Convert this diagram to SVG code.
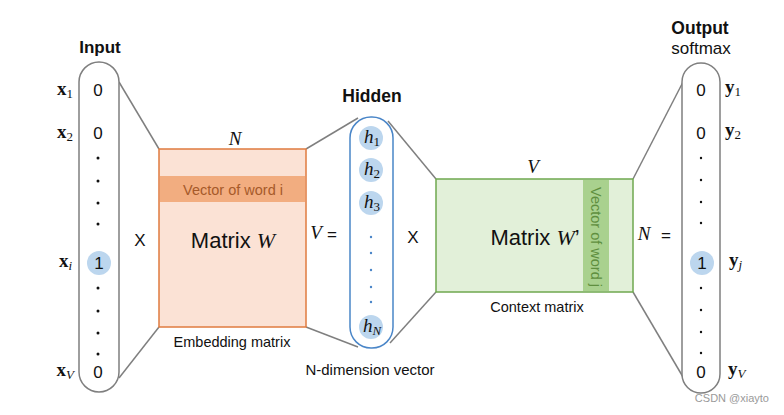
<svg xmlns="http://www.w3.org/2000/svg" width="784" height="415" viewBox="0 0 784 415">
<style>
.sans{font-family:"Liberation Sans",Arial,sans-serif;fill:#111}
.bold{font-weight:bold}
.serif{font-family:"Liberation Serif","Times New Roman",serif;fill:#111}
.it{font-style:italic}
.pill{fill:#fff;stroke:#7f7f7f;stroke-width:1.5}
.conn{stroke:#7f7f7f;stroke-width:1.5;fill:none}
.dot{fill:#111}
.bdot{fill:#4a86c8}
.hl{fill:#bcd6ee}
</style>
<rect width="784" height="415" fill="#fff"/>

<g id="connectors">
  <line class="conn" x1="119" y1="82" x2="159" y2="149"/>
  <line class="conn" x1="119" y1="378" x2="159" y2="327"/>
  <line class="conn" x1="306" y1="149" x2="358" y2="118"/>
  <line class="conn" x1="306" y1="327" x2="358" y2="347"/>
  <line class="conn" x1="388" y1="121" x2="436" y2="179"/>
  <line class="conn" x1="390" y1="343" x2="436" y2="292"/>
  <line class="conn" x1="633" y1="179" x2="683" y2="82"/>
  <line class="conn" x1="633" y1="292" x2="683" y2="377"/>
</g>

<g id="input">
  <text class="sans bold" x="100" y="53" font-size="17" text-anchor="middle">Input</text>
  <rect class="pill" x="79" y="62" width="40" height="330" rx="20"/>
  <g class="sans" font-size="17" text-anchor="middle">
    <text x="98" y="96">0</text>
    <text x="98" y="139">0</text>
    <circle class="hl" cx="99" cy="263" r="12"/>
    <text x="99" y="269">1</text>
    <text x="98" y="378">0</text>
  </g>
  <circle class="dot" cx="98" cy="158" r="1.5"/>
  <circle class="dot" cx="98" cy="181" r="1.5"/>
  <circle class="dot" cx="98" cy="203" r="1.5"/>
  <circle class="dot" cx="98" cy="224" r="1.5"/>
  <circle class="dot" cx="98" cy="288" r="1.5"/>
  <circle class="dot" cx="98" cy="311" r="1.5"/>
  <circle class="dot" cx="98" cy="333" r="1.5"/>
  <circle class="dot" cx="98" cy="354" r="1.5"/>
  <g class="serif" font-size="19" text-anchor="end">
    <text x="73" y="95"><tspan font-weight="bold">x</tspan><tspan font-size="13" dy="3">1</tspan></text>
    <text x="73" y="138"><tspan font-weight="bold">x</tspan><tspan font-size="13" dy="3">2</tspan></text>
    <text x="72" y="267"><tspan font-weight="bold">x</tspan><tspan font-size="13" dy="3" font-style="italic">i</tspan></text>
    <text x="74" y="376"><tspan font-weight="bold">x</tspan><tspan font-size="13" dy="3" font-style="italic">V</tspan></text>
  </g>
  <text class="sans" x="140" y="246" font-size="17" text-anchor="middle">X</text>
</g>

<g id="embedding">
  <rect x="159" y="149" width="147" height="178" fill="#fbe2d5" stroke="#e07b3f" stroke-width="1.5"/>
  <rect x="160" y="176" width="145" height="26" fill="#f2ad80"/>
  <text class="sans" x="233" y="194.5" font-size="14.5" text-anchor="middle" style="fill:#a65a2a">Vector of word i</text>
  <text class="serif it" x="235" y="145" font-size="19" text-anchor="middle">N</text>
  <text class="sans" x="233" y="248" font-size="22" text-anchor="middle">Matrix <tspan class="serif it">W</tspan></text>
  <text class="sans" x="232" y="347" font-size="14.5" text-anchor="middle">Embedding matrix</text>
  <text class="serif it" x="316" y="239" font-size="19" text-anchor="middle">V</text>
  <text class="sans" x="332" y="240" font-size="17" text-anchor="middle">=</text>
</g>

<g id="hidden">
  <text class="sans bold" x="372" y="102" font-size="17.5" text-anchor="middle">Hidden</text>
  <rect x="350" y="117" width="43" height="231" rx="21" fill="#fff" stroke="#4a86c8" stroke-width="1.5"/>
  <circle class="hl" cx="371" cy="138" r="12"/>
  <circle class="hl" cx="371" cy="170" r="12"/>
  <circle class="hl" cx="371" cy="203" r="12"/>
  <circle class="hl" cx="371" cy="327" r="12"/>
  <g class="serif it" font-size="19" text-anchor="middle">
    <text x="372" y="143">h<tspan font-size="13" font-style="normal" dy="3">1</tspan></text>
    <text x="372" y="175">h<tspan font-size="13" font-style="normal" dy="3">2</tspan></text>
    <text x="372" y="208">h<tspan font-size="13" font-style="normal" dy="3">3</tspan></text>
    <text x="372" y="332">h<tspan font-size="13" dy="3">N</tspan></text>
  </g>
  <circle class="bdot" cx="371" cy="237" r="1.2"/>
  <circle class="bdot" cx="371" cy="253" r="1.2"/>
  <circle class="bdot" cx="371" cy="270" r="1.2"/>
  <circle class="bdot" cx="371" cy="287" r="1.2"/>
  <circle class="bdot" cx="371" cy="302" r="1.2"/>
  <text class="sans" x="370" y="375" font-size="15" text-anchor="middle">N-dimension vector</text>
  <text class="sans" x="413" y="243" font-size="17" text-anchor="middle">X</text>
</g>

<g id="context">
  <rect x="436" y="179" width="197" height="113" fill="#e2f0d9" stroke="#6fa84f" stroke-width="1.5"/>
  <rect x="583" y="180" width="26" height="111" fill="#a9d18e"/>
  <text class="sans" x="0" y="0" font-size="14.5" text-anchor="middle" transform="translate(591,237) rotate(90)" style="fill:#5f8f3f">Vector of word j</text>
  <text class="serif it" x="533" y="173" font-size="19" text-anchor="middle">V</text>
  <text class="sans" x="535" y="245" font-size="22" text-anchor="middle">Matrix <tspan class="serif it">W</tspan>’</text>
  <text class="sans" x="537" y="312" font-size="14.5" text-anchor="middle">Context matrix</text>
  <text class="serif it" x="644" y="240" font-size="19" text-anchor="middle">N</text>
  <text class="sans" x="666" y="241" font-size="17" text-anchor="middle">=</text>
</g>

<g id="output">
  <text class="sans bold" x="700" y="34" font-size="17.5" text-anchor="middle">Output</text>
  <text class="sans" x="701" y="54" font-size="17" text-anchor="middle">softmax</text>
  <rect class="pill" x="682" y="63" width="38" height="330" rx="19"/>
  <g class="sans" font-size="17" text-anchor="middle">
    <text x="701" y="96">0</text>
    <text x="701" y="139">0</text>
    <circle class="hl" cx="702" cy="263" r="12"/>
    <text x="702" y="269">1</text>
    <text x="701" y="378">0</text>
  </g>
  <circle class="dot" cx="701" cy="158" r="1.2"/>
  <circle class="dot" cx="701" cy="180" r="1.2"/>
  <circle class="dot" cx="701" cy="202" r="1.2"/>
  <circle class="dot" cx="701" cy="223" r="1.2"/>
  <circle class="dot" cx="701" cy="288" r="1.2"/>
  <circle class="dot" cx="701" cy="310" r="1.2"/>
  <circle class="dot" cx="701" cy="332" r="1.2"/>
  <circle class="dot" cx="701" cy="353" r="1.2"/>
  <g class="serif" font-size="19">
    <text x="725" y="93"><tspan font-weight="bold">y</tspan><tspan font-size="13" dy="3">1</tspan></text>
    <text x="725" y="136"><tspan font-weight="bold">y</tspan><tspan font-size="13" dy="3">2</tspan></text>
    <text x="729" y="266"><tspan font-weight="bold">y</tspan><tspan font-size="13" dy="3" font-style="italic">j</tspan></text>
    <text x="728" y="375"><tspan font-weight="bold">y</tspan><tspan font-size="13" dy="3" font-style="italic">V</tspan></text>
  </g>
</g>

<text class="sans" x="769" y="402" font-size="11" text-anchor="end" style="fill:#9a9a9a">CSDN @xiayto</text>
</svg>
